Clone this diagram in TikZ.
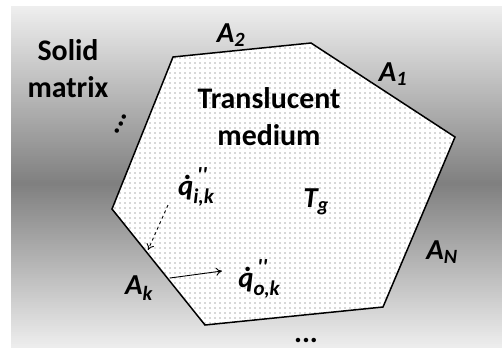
\documentclass[tikz,border=0pt]{standalone}
\usepackage{fontspec}
\setmainfont{Carlito}
\usepackage{tikz}
\usetikzlibrary{arrows.meta, positioning, patterns.meta}

\tikzset{
  plain/.style={font=\fontsize{30}{37}\selectfont\bfseries, align=center, inner sep=0pt},
  sym/.style={font=\fontsize{29}{30}\selectfont\bfseries\itshape, inner sep=0pt},
  wall/.style={line width=1.5bp, line join=miter},
  flux/.style={line width=0.9bp, -{To[length=6bp, width=8bp]}}
}
\newcommand{\qdot}{\rlap{\hspace{0.16em}\char"02D9}q}
\newcommand{\qflux}[1]{\qdot\rlap{\raisebox{0.42em}{\fontsize{22}{22}\selectfont\,\textquotesingle\textquotesingle}}\raisebox{-0.28em}{\fontsize{21}{21}\selectfont #1}}

\begin{document}
\begin{tikzpicture}[x=1bp, y=1bp]
  \useasboundingbox (0,0) rectangle (502,358);
  % solid matrix around the medium: dark in the middle, light at top and bottom
  \foreach \y in {10,12,...,350} {
    \pgfmathsetmacro{\p}{\y<173 ? 50-43*(173-\y)/163 : 50-44*(\y-173)/179}
    \fill[black!\p] (11,\y) rectangle (502,\y+2.3);
  }

  % the enclosure
  \coordinate (v1) at (173,301);
  \coordinate (v2) at (311,315);
  \coordinate (v3) at (455,221);
  \coordinate (v4) at (383,51);
  \coordinate (v5) at (205,33);
  \coordinate (v6) at (112,149);
  \fill[white] (v1) -- (v2) -- (v3) -- (v4) -- (v5) -- (v6) -- cycle;
  \fill[pattern={Dots[distance=5bp, radius=0.7bp]}, pattern color=black!65]
        (v1) -- (v2) -- (v3) -- (v4) -- (v5) -- (v6) -- cycle;
  \draw[wall] (v1) -- (v2) -- (v3) -- (v4) -- (v5) -- (v6) -- cycle;

  \node[plain] (solid) at (68,289) {Solid\\matrix};
  \node[plain] (medium) at (269,241) {Translucent\\medium};

  \node[sym] (a2) at (231,323) {A\textsubscript{2}};
  \node[sym] (a1) at (393,284) {A\textsubscript{1}};
  \node[sym] (aN) at (442,106) {A\textsubscript{N}};
  \node[sym] (ak) at (139,70) {A\textsubscript{k}};
  \node[sym] (tg) at (316,156) {T\textsubscript{g}};

  \node[plain, rotate=66] (vdots) at (121,234) {...};
  \node[plain] (hdots) at (306,18) {...};

  \node[sym] (qi) at (196,171) {\qflux{i,k}};
  \node[sym] (qo) at (259,79) {\qflux{o,k}};

  \coordinate (qi-tail) at (168,153);
  \coordinate (qi-head) at (148,108);
  \coordinate (qo-tail) at (170,80);
  \coordinate (qo-head) at (222,87);
  \draw[flux, dashed] (qi-tail) -- (qi-head);
  \draw[flux] (qo-tail) -- (qo-head);
\end{tikzpicture}
\end{document}
